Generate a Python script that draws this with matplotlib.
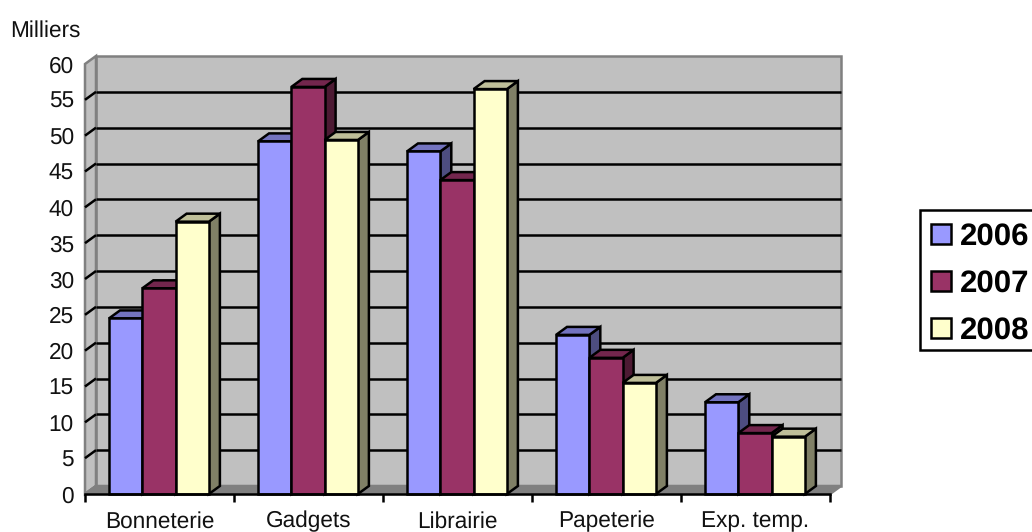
import matplotlib
matplotlib.use("Agg")
import matplotlib.pyplot as plt
from matplotlib.colors import to_rgb
from matplotlib.patches import Polygon, Rectangle

plt.rcParams["font.family"] = ["Liberation Sans", "DejaVu Sans"]
plt.rcParams["text.hinting"] = "no_hinting"

categories = ["Bonneterie", "Gadgets", "Librairie", "Papeterie", "Exp. temp."]
series_names = ["2006", "2007", "2008"]
values_2006 = [24.5, 49.2, 47.8, 22.2, 12.8]
values_2007 = [28.7, 56.8, 43.8, 19.0, 8.5]
values_2008 = [38.0, 49.4, 56.5, 15.5, 8.0]
colors = ["#9999FF", "#993366", "#FFFFCC"]
y_ticks = list(range(0, 65, 5))

W, H = 1032, 532
X0, X1 = 85, 830  # front plane in pixels
Y0, Y60 = 494, 64
DX = 11 / ((X1 - X0) / 5)  # depth in data units
DY = 8 / ((Y0 - Y60) / 60)
BAR_W = 33.3 / 149
BAR_START = 24 / 149
LW = 1.8
GRAY = "#808080"

fig = plt.figure(figsize=(W / 100, H / 100), dpi=100)
ax = fig.add_axes([X0 / W, 1 - Y0 / H, (X1 - X0) / W, (Y0 - Y60) / H])
ax.set_xlim(0, 5)
ax.set_ylim(0, 60)


def shade(c, f):
    return tuple(v * f for v in to_rgb(c))


def poly(pts, face, edge, z, lw=LW):
    ax.add_patch(Polygon(pts, closed=True, facecolor=face, edgecolor=edge,
                         linewidth=lw, zorder=z, clip_on=False, joinstyle="miter"))


# walls and floor
poly([(DX, DY), (5 + DX, DY), (5 + DX, 60 + DY), (DX, 60 + DY)], "#C0C0C0", GRAY, 1)
poly([(0, 0), (DX, DY), (DX, 60 + DY), (0, 60)], "#C0C0C0", GRAY, 1)
poly([(0, 0), (5, 0), (5 + DX, DY), (DX, DY)], GRAY, GRAY, 1)

for v in y_ticks[1:-1]:
    ax.plot([DX, 5 + DX], [v + DY, v + DY], color="black", lw=LW, zorder=2,
            clip_on=False, solid_capstyle="butt")
for v in y_ticks[:-1]:
    ax.plot([0, DX], [v, v + DY], color="black" if v else GRAY, lw=LW, zorder=2,
            clip_on=False, solid_capstyle="butt")

# bars, back to front within each group
all_values = [values_2006, values_2007, values_2008]
z = 3
for i in range(len(categories)):
    for j, vals in enumerate(all_values):
        left = i + BAR_START + j * BAR_W
        right = left + BAR_W
        top = vals[i]
        c = colors[j]
        poly([(right, 0), (right + DX, DY), (right + DX, top + DY), (right, top)],
             shade(c, 0.5), "black", z)
        poly([(left, top), (right, top), (right + DX, top + DY), (left + DX, top + DY)],
             shade(c, 0.75), "black", z)
        ax.bar(left, top, width=BAR_W, align="edge", color=c, edgecolor="black",
               linewidth=LW, zorder=z + 0.5, clip_on=False)
        z += 1

for side in ["top", "right", "left"]:
    ax.spines[side].set_visible(False)
ax.spines["bottom"].set_linewidth(LW)
ax.spines["bottom"].set_zorder(50)
ax.patch.set_visible(False)

ax.set_yticks(y_ticks)
ax.tick_params(axis="y", length=0, pad=8, labelsize=16.3, labelcolor="#111111")
ax.set_xticks(range(len(categories) + 1))
ax.set_xticklabels([])
ax.tick_params(axis="x", length=6, width=LW, color="black", zorder=50)
for i, name in enumerate(categories):
    ax.annotate(name, xy=(i + 0.5, 0), xytext=(0, -24), textcoords="offset points",
                ha="center", va="baseline", fontsize=16.3, color="#111111",
                annotation_clip=False)

fig.text(10 / W, 1 - 37 / H, "Milliers", fontsize=16.3, color="#111111", ha="left",
         va="baseline")

# legend is drawn by hand since the box runs into the image edge
fig.add_artist(Rectangle((920 / W, 1 - 350 / H), 130 / W, 140 / H, transform=fig.transFigure,
                         facecolor="white", edgecolor="black", linewidth=LW))
for name, c, y in zip(series_names, colors, [234, 281, 328]):
    fig.add_artist(Rectangle((931 / W, 1 - (y + 10) / H), 20 / W, 20 / H,
                             transform=fig.transFigure, facecolor=c, edgecolor="black",
                             linewidth=LW))
    fig.text(960 / W, 1 - (y + 11) / H, name, fontsize=22.5, fontweight="bold", color="black",
             ha="left", va="baseline")

fig.savefig("out.png", dpi=100)
